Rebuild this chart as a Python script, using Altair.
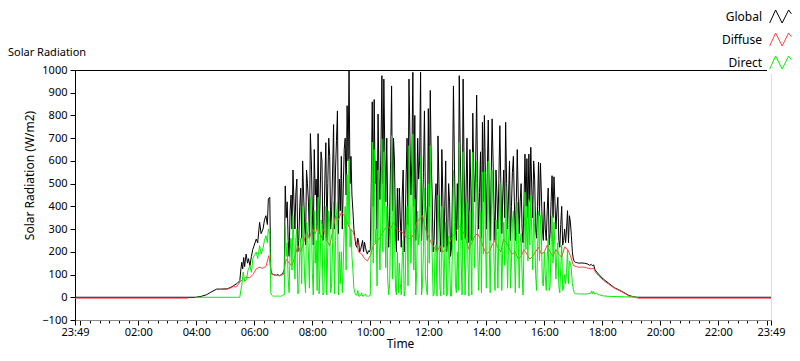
import altair as alt
import pandas as pd

FONT = "Noto Sans"
SERIES = ["Global", "Diffuse", "Direct"]
COLORS = ["#000000", "#ff4040", "#00f000"]

# ---------------- Global radiation (W/m2) ----------------
GLOBAL_MORNING_T = ["23:49", "03:58", "04:10", "04:21", "04:30", "04:42", "04:50", "05:03", "05:10", "05:17",
                    "05:24", "05:30", "05:32", "05:34", "05:36", "05:38", "05:40", "05:43", "05:46", "05:48",
                    "05:51", "05:54", "05:57", "06:00", "06:04", "06:07", "06:11", "06:14", "06:18", "06:21",
                    "06:24", "06:27", "06:29"]
GLOBAL_MORNING_V = [0, 0, 4, 11, 22, 36, 36, 37, 42, 51,
                    60, 73, 120, 154, 125, 175, 135, 190, 150, 170,
                    139, 180, 212, 230, 256, 240, 330, 280, 300, 340,
                    359, 320, 432]
# readings every 4 minutes from 06:32 ...
GLOBAL_DAY_START = "06:32"
GLOBAL_DAY = [
    440, 105, 100, 98, 100, 95, 100,
    110, 490, 420, 180, 450, 560, 300, 520, 250, 480, 600, 330, 560, 420, 720,
    380, 650, 520, 720, 420, 600, 300, 680, 500, 620, 380, 760, 560, 820, 520,
    620, 480, 700, 843, 998, 620, 380, 260, 220, 240, 210, 250, 242, 200, 205,
    210, 860, 870, 600, 806, 430, 975, 960, 420, 380, 360, 930, 700, 300, 480,
    480, 220, 560, 300, 700, 960, 450, 990, 800, 420, 520, 990, 380, 820, 350,
    830, 910, 450, 250, 500, 710, 300, 650, 220, 600, 250, 420, 220, 930, 330,
    500, 975, 420, 960, 260, 700, 240, 480, 810, 420, 890, 300, 640, 770, 800,
    300, 780, 250, 785, 380, 560, 300, 755, 280, 560, 770, 300, 600, 400, 620,
    250, 650, 280, 500, 240, 630, 610, 630, 660, 350, 520, 260, 595, 590, 300,
    420, 250, 480, 280, 535, 530, 300, 440, 220, 400, 250, 240, 381, 359, 271,
    168, 154, 152, 150,
]
# ... and the readings 2 minutes after each of them (06:34, 06:38, ...)
GLOBAL_DAY_MID = [
    120, 102, 99, 97, 98, 97, 104,
    120, 350, 250, 380, 300, 420, 460, 200, 400, 260, 450, 230, 500, 260, 600,
    230, 450, 300, 280, 640, 250, 520, 250, 700, 300, 560, 300, 690, 280, 380,
    300, 650, 450, 600, 500, 450, 300, 230, 260, 200, 230, 200, 220, 190, 200,
    500, 400, 500, 300, 520, 650, 500, 640, 700, 220, 600, 380, 600, 200, 250,
    350, 450, 200, 520, 320, 700, 600, 400, 250, 700, 600, 250, 550, 420, 250,
    400, 600, 200, 420, 200, 500, 200, 450, 400, 200, 500, 180, 480, 600, 250,
    300, 650, 250, 580, 450, 400, 650, 250, 550, 600, 500, 460, 260, 420, 560,
    550, 450, 520, 600, 250, 450, 520, 500, 450, 350, 500, 450, 250, 550, 420,
    420, 450, 420, 300, 420, 400, 350, 420, 480, 600, 300, 400, 360, 450, 250,
    300, 380, 230, 420, 350, 420, 380, 250, 320, 230, 300, 300, 240, 330, 200,
    158, 153, 151,
]
GLOBAL_EVENING_T = ["17:16", "17:23", "17:30", "17:34", "17:37", "17:40", "17:42", "17:45", "17:52", "18:02",
                    "18:13", "18:25", "18:35", "18:47", "18:55", "19:05", "19:13", "23:49"]
GLOBAL_EVENING_V = [151, 150, 146, 140, 145, 138, 143, 120, 102, 80,
                    62, 42, 32, 18, 8, 2, 0, 0]

# ---------------- Diffuse radiation (W/m2) ----------------
DIFFUSE_NIGHT_T = ["23:49", "03:43"]
DIFFUSE_NIGHT_V = [-4, -4]
DIFFUSE_MORNING_T = ["04:52", "05:03", "05:10", "05:17", "05:23", "05:30", "05:37", "05:44", "05:50", "05:57",
                     "06:04", "06:10", "06:17", "06:24"]
DIFFUSE_MORNING_V = [34, 35, 40, 47, 45, 67, 80, 89, 85, 100,
                     125, 132, 128, 135]
# readings every 6 minutes from 06:30
DIFFUSE_DAY_START = "06:30"
DIFFUSE_DAY = [
    183, 100, 98, 95, 96,
    100, 168, 150, 140, 180, 227, 200, 240, 287, 260,
    300, 280, 315, 260, 300, 250, 227, 290, 359, 340,
    374, 360, 330, 300, 290, 250, 199, 190, 170, 160,
    183, 227, 240, 256, 280, 300, 315, 300, 330, 300,
    290, 287, 270, 260, 256, 280, 330, 344, 360, 300,
    270, 240, 220, 200, 227, 199, 210, 230, 260, 280,
    300, 315, 290, 250, 212, 240, 270, 280, 256, 220,
    190, 200, 230, 250, 220, 200, 256, 240, 210, 190,
    200, 168, 180, 210, 190, 168, 180, 200, 220, 190,
    200, 230, 200, 180, 210, 190, 175, 221, 212, 183,
    140, 135, 132,
]
DIFFUSE_EVENING_T = ["17:18", "17:24", "17:30", "17:37", "17:42", "17:46", "17:52", "18:02", "18:13", "18:25",
                     "18:35", "18:47", "18:55", "19:05", "19:15", "23:49"]
DIFFUSE_EVENING_V = [133, 132, 128, 125, 128, 110, 95, 75, 58, 40,
                     30, 16, 6, 1, -4, -4]

# ---------------- Direct radiation (W/m2) ----------------
DIRECT_MORNING_T = ["03:58", "05:30", "05:32", "05:34", "05:37", "05:40", "05:44", "05:47", "05:51", "05:54",
                    "05:57", "06:00", "06:04", "06:07", "06:11", "06:14", "06:18", "06:21", "06:24", "06:27",
                    "06:29"]
DIRECT_MORNING_V = [0, 0, 30, 51, 111, 70, 80, 120, 139, 110,
                    170, 185, 199, 170, 227, 190, 216, 250, 271, 240,
                    300]
# readings every 4 minutes from 06:32 ...
DIRECT_DAY_START = "06:32"
DIRECT_DAY = [
    280, 10, 5, 5, 5, 5, 5,
    10, 315, 240, 20, 260, 360, 80, 300, 30, 260, 400, 90, 330, 190, 440,
    110, 380, 250, 440, 130, 320, 20, 400, 220, 330, 60, 420, 250, 420, 200,
    200, 150, 400, 540, 608, 300, 120, 20, 10, 5, 8, 5, 10, 5, 5,
    10, 683, 650, 300, 560, 120, 697, 640, 130, 80, 60, 711, 500, 40, 200,
    150, 10, 250, 30, 400, 667, 150, 718, 432, 120, 230, 620, 60, 480, 40,
    500, 667, 180, 10, 230, 450, 40, 400, 10, 330, 20, 160, 5, 560, 60,
    200, 682, 150, 640, 10, 420, 5, 200, 638, 130, 600, 30, 380, 550, 560,
    40, 600, 20, 560, 150, 340, 40, 500, 30, 330, 491, 40, 360, 150, 380,
    20, 420, 40, 280, 10, 462, 400, 430, 450, 120, 300, 30, 380, 360, 60,
    200, 30, 260, 50, 359, 330, 80, 240, 20, 230, 40, 60, 212, 160, 120,
    36, 15, 15, 15,
]
# ... and the readings 2 minutes after each of them
DIRECT_DAY_MID = [
    20, 6, 5, 5, 5, 5, 8,
    10, 180, 80, 200, 120, 230, 260, 15, 200, 60, 240, 20, 280, 40, 360,
    10, 150, 30, 15, 340, 10, 220, 10, 380, 20, 240, 15, 360, 10, 60,
    20, 300, 120, 320, 220, 180, 40, 10, 30, 5, 20, 5, 15, 5, 5,
    260, 150, 240, 50, 250, 380, 200, 350, 400, 10, 300, 80, 300, 10, 20,
    60, 170, 5, 260, 50, 430, 300, 120, 10, 380, 280, 10, 220, 100, 10,
    150, 350, 5, 220, 5, 280, 5, 230, 190, 5, 270, 5, 240, 330, 20,
    30, 360, 10, 300, 200, 150, 380, 10, 280, 330, 230, 200, 20, 190, 330,
    330, 240, 300, 380, 30, 230, 300, 280, 220, 140, 270, 240, 40, 330, 220,
    230, 270, 240, 100, 230, 210, 160, 230, 290, 400, 100, 200, 160, 260, 50,
    100, 170, 30, 230, 150, 220, 190, 50, 130, 30, 100, 110, 60, 150, 60,
    20, 15, 15,
]
DIRECT_EVENING_T = ["17:16", "17:23", "17:30", "17:36", "17:38", "17:40", "17:42", "17:44", "17:48", "17:52",
                    "18:02", "18:15", "18:30", "18:45", "19:00", "19:13"]
DIRECT_EVENING_V = [15, 14, 15, 18, 28, 16, 25, 14, 18, 12,
                    6, 4, 3, 2, 1, 0]

# axis: 23:49 (previous day) .. 23:49
X_START, X_END = "23:49", "23:49"


def hrs(t, wrap=False):
    h, m = t.split(":")
    v = int(h) + int(m) / 60.0
    return v - 24 if (wrap and v >= 12) else v


def grid(start, step_min, n):
    h0 = hrs(start)
    return [h0 + i * step_min / 60.0 for i in range(n)]


def interleave(a, b):
    out = []
    for i, v in enumerate(a):
        out.append(v)
        if i < len(b):
            out.append(b[i])
    return out


rows = []


def add(series, seg, times_h, values):
    assert len(times_h) == len(values), (series, seg, len(times_h), len(values))
    for h, v in zip(times_h, values):
        rows.append({"series": series, "seg": seg, "h": h, "v": v})


g_day = interleave(GLOBAL_DAY, GLOBAL_DAY_MID)
r_day = interleave(DIRECT_DAY, DIRECT_DAY_MID)

add("Global", "g", [hrs(t, True) for t in GLOBAL_MORNING_T]
    + grid(GLOBAL_DAY_START, 2, len(g_day))
    + [hrs(t) for t in GLOBAL_EVENING_T],
    GLOBAL_MORNING_V + g_day + GLOBAL_EVENING_V)
add("Diffuse", "d0", [hrs(t, True) for t in DIFFUSE_NIGHT_T], DIFFUSE_NIGHT_V)
add("Diffuse", "d1", [hrs(t) for t in DIFFUSE_MORNING_T]
    + grid(DIFFUSE_DAY_START, 6, len(DIFFUSE_DAY))
    + [hrs(t) for t in DIFFUSE_EVENING_T],
    DIFFUSE_MORNING_V + DIFFUSE_DAY + DIFFUSE_EVENING_V)
add("Direct", "r", [hrs(t) for t in DIRECT_MORNING_T]
    + grid(DIRECT_DAY_START, 2, len(r_day))
    + [hrs(t) for t in DIRECT_EVENING_T],
    DIRECT_MORNING_V + r_day + DIRECT_EVENING_V)

df = pd.DataFrame(rows)

x0 = hrs(X_START, True)
x1 = hrs(X_END)
x_ticks = [x0] + [k / 3.0 for k in range(0, 72)] + [x1]
major_test = "datum.value < 0 || datum.value > 23.5 || datum.value % 2 == 0"
label_expr = ("datum.value < 0 || datum.value > 23.7 ? '23:49' : "
              "(datum.value > 0 && datum.value % 2 == 0 ? "
              "(datum.value < 10 ? '0' : '') + datum.value + ':00' : '')")

x_scale = alt.Scale(domain=[x0, x1], nice=False, zero=False)
y_scale = alt.Scale(domain=[-100, 1000], nice=False, zero=False)

x_bottom = alt.X("h:Q", scale=x_scale, axis=alt.Axis(
    values=x_ticks, labelExpr=label_expr, title="Time", grid=False,
    domainColor="#8c8c8c", tickColor="#000000",
    tickSize={"condition": {"test": major_test, "value": 5}, "value": 3},
    labelFont=FONT, labelFontSize=11, labelColor="#000000", labelPadding=1,
    labelOverlap=False, labelFlush=False,
    titleFont=FONT, titleFontSize=12, titleFontWeight="normal", titleColor="#000000",
    titlePadding=1, titleX=325))
x_top = alt.X("h:Q", scale=x_scale, axis=alt.Axis(
    orient="top", labels=False, ticks=False, title=None, grid=False, domainColor="#000000"))
x_none = alt.X("h:Q", scale=x_scale, axis=None)

y_enc = alt.Y("v:Q", scale=y_scale, axis=alt.Axis(
    values=list(range(-100, 1001, 100)), format="d", title="Solar Radiation (W/m2)", grid=False,
    domainColor="#000000", tickColor="#000000", tickSize=5,
    labelFont=FONT, labelFontSize=11, labelColor="#000000", labelPadding=3,
    titleFont=FONT, titleFontSize=12, titleFontWeight="normal", titleColor="#000000",
    titlePadding=5, titleY=105))

color_enc = alt.Color("series:N", scale=alt.Scale(domain=SERIES, range=COLORS), legend=alt.Legend(
    title=None, orient="none", legendX=692, legendY=-67, direction="vertical",
    symbolType="M-1,0.6L-0.45,-0.6L0.15,0.6L0.75,-0.6L1,-0.25",
    symbolSize=470, symbolStrokeWidth=1, symbolFillColor="transparent",
    labelAlign="right", labelOffset={"expr": "-30"}, labelFont=FONT, labelFontSize=12,
    labelColor="#000000", rowPadding=2, padding=2, fillColor="#ffffff"))

base = alt.Chart(df)


def layer(name, x_enc):
    return base.transform_filter(alt.datum.series == name).mark_line(
        strokeWidth=1, clip=True).encode(x=x_enc, y=y_enc, color=color_enc, detail="seg:N")


chart = alt.layer(
    layer("Global", x_bottom),
    layer("Diffuse", x_top),
    layer("Direct", x_none),
).resolve_axis(x="independent").properties(
    width=696, height=250,
    autosize=alt.AutoSizeParams(type="none"),
    padding={"left": 67, "top": 62, "right": 21, "bottom": 33},
    title=alt.TitleParams("Solar Radiation", anchor="start", frame="group", dx=-67, dy=64, offset=9,
                          font=FONT, fontSize=11, fontWeight="normal", color="#000000"),
).configure_view(stroke="#9a9a9a", strokeWidth=1).configure(background="white")

chart.save("out.html", embed_options={"renderer": "svg", "actions": False})
